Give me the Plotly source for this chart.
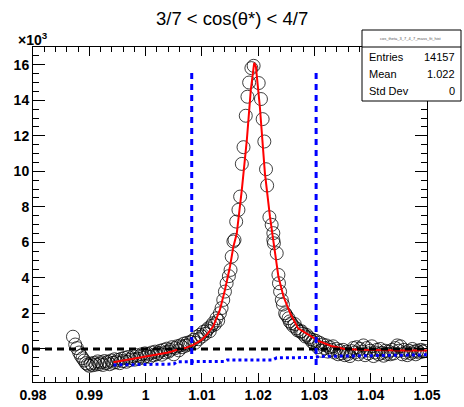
import plotly.graph_objects as go

# ---------------- data (y in units of 10^3) ----------------
data_x = [
    0.9871, 0.9875, 0.9878, 0.9882, 0.9885, 0.9888, 0.9891, 0.9894, 0.9897, 0.9900,
    0.9903, 0.9906, 0.9909, 0.9912, 0.9915, 0.9918, 0.9921, 0.9924, 0.9927, 0.9930,
    0.9933, 0.9936, 0.9939, 0.9942, 0.9945, 0.9948, 0.9951, 0.9954, 0.9957, 0.9960,
    0.9963, 0.9966, 0.9969, 0.9972, 0.9975, 0.9978, 0.9981, 0.9984, 0.9987, 0.9990,
    0.9993, 0.9996, 0.9999, 1.0002, 1.0005, 1.0008, 1.0011, 1.0014, 1.0017, 1.0020,
    1.0023, 1.0026, 1.0029, 1.0032, 1.0035, 1.0038, 1.0041, 1.0044, 1.0047, 1.0050,
    1.0053, 1.0056, 1.0059, 1.0062, 1.0065, 1.0068, 1.0071, 1.0074, 1.0077, 1.0080,
    1.0085, 1.0088, 1.0091, 1.0094, 1.0097, 1.0100, 1.0103, 1.0106, 1.0109, 1.0111,
    1.0114, 1.0117, 1.0120, 1.0123, 1.0126, 1.0129, 1.0132, 1.0135, 1.0138, 1.0141,
    1.0144, 1.0148, 1.0151, 1.0153, 1.0156, 1.0158, 1.0161, 1.0165, 1.0168, 1.0171,
    1.0174, 1.0178, 1.0181, 1.0184, 1.0188, 1.0192, 1.0201, 1.0205, 1.0208, 1.0211,
    1.0214, 1.0216, 1.0220, 1.0224, 1.0227, 1.0227, 1.0228, 1.0233, 1.0236, 1.0237,
    1.0239, 1.0242, 1.0244, 1.0248, 1.0250, 1.0254, 1.0256, 1.0259, 1.0262, 1.0265,
    1.0268, 1.0270, 1.0275, 1.0277, 1.0280, 1.0284, 1.0286, 1.0290, 1.0293, 1.0296,
    1.0298, 1.0300, 1.0303, 1.0306, 1.0309, 1.0312, 1.0315, 1.0318, 1.0321, 1.0324,
    1.0327, 1.0330, 1.0333, 1.0336, 1.0339, 1.0342, 1.0345, 1.0348, 1.0351, 1.0354,
    1.0357, 1.0360, 1.0363, 1.0366, 1.0369, 1.0372, 1.0375, 1.0378, 1.0381, 1.0384,
    1.0387, 1.0390, 1.0393, 1.0396, 1.0399, 1.0402, 1.0405, 1.0408, 1.0411, 1.0414,
    1.0417, 1.0420, 1.0423, 1.0426, 1.0429, 1.0432, 1.0435, 1.0438, 1.0441, 1.0444,
    1.0447, 1.0450, 1.0453, 1.0456, 1.0459, 1.0462, 1.0465, 1.0468, 1.0471, 1.0474,
    1.0477, 1.0480, 1.0483, 1.0486, 1.0489, 1.0492, 1.0495,
]
data_y = [
    0.69, 0.25, 0.05, -0.20, -0.38, -0.52, -0.65, -0.80, -0.88, -0.95,
    -0.82, -0.92, -0.78, -0.88, -0.70, -0.85, -0.75, -0.90, -0.68, -0.80,
    -0.72, -0.86, -0.65, -0.78, -0.58, -0.74, -0.62, -0.80, -0.55, -0.68,
    -0.50, -0.72, -0.45, -0.62, -0.52, -0.40, -0.60, -0.35, -0.55, -0.42,
    -0.30, -0.50, -0.25, -0.40, -0.28, -0.45, -0.20, -0.35, -0.15, -0.30,
    -0.22, -0.10, -0.32, -0.05, -0.20, 0.02, -0.15, -0.05, 0.10, -0.30,
    0.05, 0.15, -0.08, 0.20, 0.10, 0.30, 0.18, 0.35, 0.25, 0.40,
    0.51, 0.35, 0.69, 0.55, 0.80, 0.70, 0.97, 0.85, 1.05, 1.16,
    1.00, 1.30, 1.45, 1.38, 1.73, 1.60, 2.01, 2.30, 2.76, 3.23,
    3.70, 4.10, 4.45, 5.20, 6.05, 6.14, 7.17, 7.83, 8.58, 10.42,
    11.36, 13.13, 14.20, 15.00, 15.81, 15.94, 14.97, 14.07, 12.94, 11.68,
    10.12, 9.20, 7.42, 6.99, 6.14, 6.52, 5.95, 5.39, 4.17, 3.70,
    3.23, 2.76, 2.50, 2.01, 1.90, 1.73, 1.55, 1.45, 1.30, 1.40,
    1.16, 1.05, 0.97, 1.00, 0.85, 0.70, 0.79, 0.65, 0.55, 0.40,
    0.51, 0.30, 0.45, 0.10, 0.35, -0.10, 0.25, 0.05, 0.20, -0.15,
    0.10, -0.05, 0.15, -0.20, 0.00, -0.30, -0.10, -0.25, -0.05, -0.35,
    -0.15, -0.28, -0.40, -0.12, 0.05, -0.20, 0.10, -0.30, 0.00, -0.15,
    0.20, -0.35, 0.05, -0.25, -0.10, 0.15, -0.40, -0.20, -0.05, -0.30,
    0.00, -0.22, -0.38, -0.10, -0.28, -0.15, -0.30, -0.05, -0.25, 0.05,
    0.20, -0.10, 0.15, -0.30, -0.05, -0.20, -0.35, -0.10, -0.25, 0.00,
    -0.15, -0.30, -0.10, -0.20, -0.05, -0.15, -0.10,
]

fit_x = [0.9943, 0.9960, 0.9980, 1.0000, 1.0020, 1.0040, 1.0055, 1.0070, 1.0085,
         1.0100, 1.0110, 1.0120, 1.0132, 1.0141, 1.0150, 1.0156, 1.0162, 1.0171,
         1.0180, 1.0187, 1.0193, 1.0196, 1.0203, 1.0212, 1.0221, 1.0227, 1.0231,
         1.0236, 1.0245, 1.0257, 1.0271, 1.0289, 1.0307, 1.0330, 1.0354, 1.0380,
         1.0420, 1.0460, 1.0500]
fit_y = [-0.75, -0.65, -0.52, -0.42, -0.32, -0.20, -0.06, 0.05, 0.23,
         0.52, 0.85, 1.26, 2.20, 3.32, 4.64, 5.76, 6.50, 8.96,
         11.80, 14.60, 16.10, 15.90, 13.65, 9.90, 7.45, 6.14, 5.20,
         4.07, 2.95, 2.01, 1.16, 0.79, 0.45, 0.17, 0.00, -0.05,
         -0.08, -0.08, -0.08]

bkg_x = [0.9943, 0.9990, 1.0050, 1.0056, 1.0140, 1.0145, 1.0225, 1.0233,
         1.0300, 1.0310, 1.0400, 1.0500]
bkg_y = [-0.90, -0.88, -0.85, -0.72, -0.70, -0.62, -0.62, -0.50,
         -0.48, -0.42, -0.38, -0.33]

window_x = [1.0082, 1.0303]
window_y = [-0.90, 15.80]

xtick_vals = [0.98, 0.99, 1.00, 1.01, 1.02, 1.03, 1.04, 1.05]
xtick_text = ["0.98", "0.99", "1", "1.01", "1.02", "1.03", "1.04", "1.05"]
ytick_vals = [0, 2, 4, 6, 8, 10, 12, 14, 16]
ytick_text = ["0", "2", "4", "6", "8", "10", "12", "14", "16"]

stats_labels = ["Entries", "Mean", "Std Dev"]
stats_values = ["14157", "1.022", "0"]

title_text = "3/7 < cos(θ*) < 4/7"

# ---------------- figure ----------------
W, H = 464, 407
L, R, T, B = 33, 37, 47, 25
pw, ph = W - L - R, H - T - B

def px2paper(px, py):
    return (px - L) / pw, (H - B - py) / ph

FONT = "Liberation Sans, Arial, Helvetica, sans-serif"

fig = go.Figure()
fig.add_trace(go.Scatter(
    x=data_x, y=data_y, mode="markers",
    marker=dict(symbol="circle-open", size=13, color="rgba(0,0,0,0.75)",
                line=dict(width=1, color="rgba(0,0,0,0.75)")),
    hoverinfo="skip"))
fig.add_trace(go.Scatter(x=fit_x, y=fit_y, mode="lines",
                         line=dict(color="#ff0000", width=2)))
fig.add_trace(go.Scatter(x=bkg_x, y=bkg_y, mode="lines",
                         line=dict(color="#0000ff", width=3, dash="3px,3px")))
fig.add_trace(go.Scatter(x=[0.98, 1.05], y=[0, 0], mode="lines",
                         line=dict(color="black", width=3, dash="7px,5px")))
for xv in window_x:
    fig.add_trace(go.Scatter(x=[xv, xv], y=window_y, mode="lines",
                             line=dict(color="#0000ff", width=3, dash="6px,5px")))

axis_common = dict(showline=True, linecolor="black", linewidth=1, mirror="ticks",
                   ticks="inside", tickcolor="black", showgrid=False, zeroline=False,
                   tickfont=dict(family=FONT, size=14, color="black", weight="bold"))
fig.update_xaxes(range=[0.98, 1.05], tickmode="array", tickvals=xtick_vals,
                 ticktext=xtick_text, ticklen=9, tickwidth=1,
                 minor=dict(tickmode="linear", tick0=0.98, dtick=0.002, ticks="inside",
                            ticklen=5, tickcolor="black", tickwidth=1, showgrid=False),
                 **axis_common)
fig.update_yaxes(range=[-1.86, 17.0], tickmode="array", tickvals=ytick_vals,
                 ticktext=ytick_text, ticklen=12, tickwidth=1,
                 minor=dict(tickmode="linear", tick0=0, dtick=0.5, ticks="inside",
                            ticklen=6, tickcolor="black", tickwidth=1, showgrid=False),
                 **axis_common)

annotations = []
tx, ty = px2paper(232, 18)
annotations.append(dict(x=tx, y=ty, xref="paper", yref="paper", text=title_text,
                        showarrow=False, xanchor="center", yanchor="middle",
                        font=dict(family=FONT, size=18.5, color="black")))
ex, ey = px2paper(16, 39)
annotations.append(dict(x=ex, y=ey, xref="paper", yref="paper",
                        text="×10<sup>3</sup>", showarrow=False, xanchor="left",
                        yanchor="middle",
                        font=dict(family=FONT, size=14, color="black", weight="bold")))

# stats box
bx0, by0 = px2paper(362, 101)
bx1, by1 = px2paper(461, 30)
sx0, sy = px2paper(362, 47)
shapes = [
    dict(type="rect", xref="paper", yref="paper", x0=bx0, y0=by0, x1=bx1, y1=by1,
         line=dict(color="black", width=1), fillcolor="white", layer="above"),
    dict(type="line", xref="paper", yref="paper", x0=bx0, y0=sy, x1=bx1, y1=sy,
         line=dict(color="black", width=1), layer="above"),
]
hx, hy = px2paper(411, 39)
annotations.append(dict(x=hx, y=hy, xref="paper", yref="paper",
                        text="cos_theta_3_7_4_7_mass_fit_hist", showarrow=False,
                        xanchor="center", yanchor="middle",
                        font=dict(family=FONT, size=4, color="#555555")))
rows_py = [57, 74, 91]
for lab, val, py in zip(stats_labels, stats_values, rows_py):
    lx, ly = px2paper(367, py)
    rx, _ = px2paper(457, py)
    annotations.append(dict(x=lx, y=ly, xref="paper", yref="paper", text=lab,
                            showarrow=False, xanchor="left", yanchor="middle",
                            font=dict(family=FONT, size=11, color="black")))
    annotations.append(dict(x=rx, y=ly, xref="paper", yref="paper", text=val,
                            showarrow=False, xanchor="right", yanchor="middle",
                            font=dict(family=FONT, size=11, color="black")))

fig.update_layout(width=W, height=H, margin=dict(l=L, r=R, t=T, b=B, autoexpand=False),
                  paper_bgcolor="white", plot_bgcolor="white", showlegend=False,
                  annotations=annotations, shapes=shapes)

fig.write_html("out.html")
